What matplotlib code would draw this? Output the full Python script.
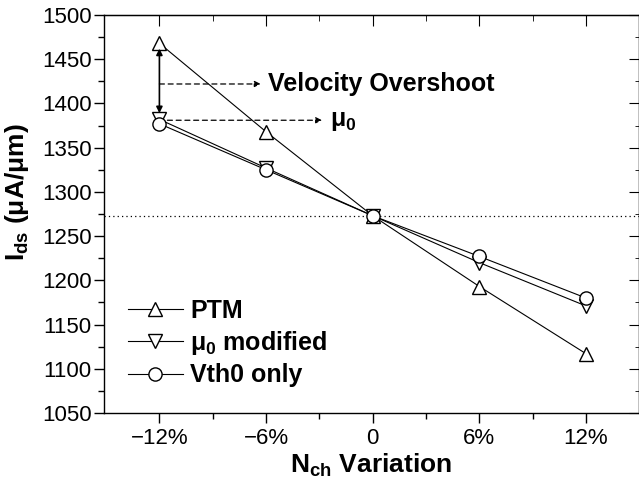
import matplotlib
matplotlib.use("Agg")
import matplotlib.pyplot as plt
from matplotlib.ticker import MultipleLocator, FixedLocator

plt.rcParams['font.family'] = ['Liberation Sans', 'DejaVu Sans']
plt.rcParams['mathtext.fontset'] = 'custom'
plt.rcParams['mathtext.rm'] = 'Liberation Sans:bold'
plt.rcParams['mathtext.bf'] = 'Liberation Sans:bold'
plt.rcParams['mathtext.it'] = 'Liberation Sans:bold'

# data
variation = [-12, -6, 0, 6, 12]
xtick_labels = ['\u221212%', '\u22126%', '0', '6%', '12%']
ptm = [1468, 1368, 1273, 1193, 1117]
mu0_modified = [1382, 1327, 1273, 1220, 1171]
vth0_only = [1377, 1325, 1273, 1227, 1180]
nominal = 1273

FS_TICK = 16
FS_TXT = 18
FS_LAB = 19

fig = plt.figure(figsize=(6.39, 4.83), dpi=100)
ax = fig.add_axes([104.3/639, 1-413/483, (638.5-104.3)/639, (413-15)/483])

mk = dict(color='black', lw=0.8, mfc='white', mec='black', mew=1.0, ms=9.5)
ax.plot(variation, ptm, marker='^', label='PTM', **mk)
ax.plot(variation, mu0_modified, marker='v', label='$\\mu_0$ modified', **mk)
ax.plot(variation, vth0_only, marker='o', label='Vth0 only', **mk)

ax.axhline(nominal, color='black', lw=0.9, ls=(0, (1, 2.5)), zorder=0)

ax.set_xlim(-15.1, 14.95)
ax.set_ylim(1050, 1500)
ax.xaxis.set_major_locator(FixedLocator(variation))
ax.set_xticklabels(xtick_labels)
ax.xaxis.set_minor_locator(FixedLocator([-9, -3, 3, 9]))
ax.yaxis.set_major_locator(MultipleLocator(50))
ax.yaxis.set_minor_locator(MultipleLocator(25))

ax.tick_params(axis='both', which='major', labelsize=FS_TICK, length=7, width=1)
ax.tick_params(axis='y', which='major', pad=2)
ax.tick_params(axis='both', which='minor', length=4, width=1)
ax.tick_params(axis='both', which='both', direction='out')
for s in ax.spines.values():
    s.set_linewidth(1.0)

sec_x = ax.secondary_xaxis('top')
sec_x.xaxis.set_major_locator(FixedLocator(variation))
sec_x.xaxis.set_minor_locator(FixedLocator([-9, -3, 3, 9]))
sec_x.tick_params(which='major', direction='in', length=8, labeltop=False)
sec_x.tick_params(which='minor', direction='in', length=4)
sec_y = ax.secondary_yaxis('right')
sec_y.yaxis.set_major_locator(MultipleLocator(50))
sec_y.yaxis.set_minor_locator(MultipleLocator(25))
sec_y.tick_params(which='major', direction='in', length=7, labelright=False)
sec_y.tick_params(which='minor', direction='in', length=3)
ax.tick_params(top=False, right=False, which='both')

# annotations
ax.annotate('', xy=(-12, 1462), xytext=(-12, 1389),
            arrowprops=dict(arrowstyle='<|-|>', color='black', lw=1.2,
                            mutation_scale=9, shrinkA=0, shrinkB=0))
ax.annotate('', xy=(-6.3, 1422), xytext=(-12, 1422),
            arrowprops=dict(arrowstyle='-|>', color='black', lw=0.9, ls=(0, (4, 3)),
                            mutation_scale=9, shrinkA=0, shrinkB=0))
ax.text(-5.9, 1422, 'Velocity Overshoot', fontsize=FS_TXT, fontweight='bold', va='center', ha='left')
ax.annotate('', xy=(-2.85, 1381), xytext=(-11.55, 1381),
            arrowprops=dict(arrowstyle='-|>', color='black', lw=0.9, ls=(0, (4, 3)),
                            mutation_scale=9, shrinkA=0, shrinkB=0))
ax.text(-2.4, 1380, '$\\mu_0$', fontsize=FS_TXT, va='center', ha='left')

leg = ax.legend(loc='upper left', bbox_to_anchor=(0.044, 0.287), frameon=False,
                borderaxespad=0, borderpad=0, numpoints=1, handlelength=2.2,
                handletextpad=0.3, labelspacing=0.25,
                prop={'size': FS_TXT, 'weight': 'bold'})

fig.text(17/639, 1-192/483, 'I$_{\\mathbf{ds}}$ (\u03bcA/\u03bcm)', rotation=90,
         ha='center', va='center', fontsize=FS_LAB, fontweight='bold')
fig.text(371/639, 1-465/483, 'N$_{\\mathbf{ch}}$ Variation', ha='center', va='center',
         fontsize=FS_LAB, fontweight='bold')

fig.savefig('out.png', dpi=100)
